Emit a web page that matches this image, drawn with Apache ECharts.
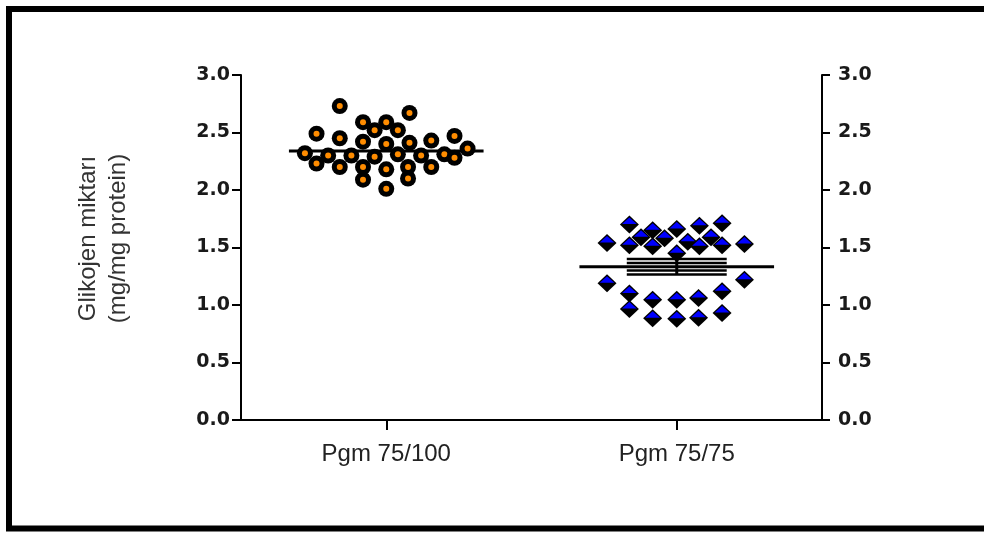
<!DOCTYPE html>
<html>
<head>
<meta charset="utf-8">
<script src="https://cdn.jsdelivr.net/npm/echarts@6/dist/echarts.min.js"></script>
<style>
  html, body { margin: 0; padding: 0; background: #fff; }
</style>
</head>
<body>
<div id="main" style="width: 984px; height: 534px"></div>
<script>
// categories (x positions 1 and 2)
var categories = ['Pgm 75/100', 'Pgm 75/75'];
var yTicks = [0, 0.5, 1.0, 1.5, 2.0, 2.5, 3.0];

// Pgm 75/100 points [x jitter, value]
var pgm100 = [
  [0.84, 2.73], [1.08, 2.67], [0.92, 2.59], [1.00, 2.59], [0.96, 2.52], [1.04, 2.52],
  [0.76, 2.49], [1.235, 2.47], [0.84, 2.45], [0.92, 2.42], [1.00, 2.40], [1.08, 2.41],
  [1.155, 2.43], [1.28, 2.36], [0.72, 2.32], [0.80, 2.30], [0.88, 2.30], [0.96, 2.29],
  [1.04, 2.31], [1.12, 2.30], [1.20, 2.31], [1.235, 2.28], [0.76, 2.23], [0.84, 2.20],
  [0.92, 2.20], [1.00, 2.18], [1.075, 2.20], [1.155, 2.20], [0.92, 2.09], [1.075, 2.10],
  [1.00, 2.01]
];

// Pgm 75/75 points [x jitter, value]
var pgm75 = [
  [1.837, 1.70], [1.917, 1.65], [2.00, 1.66], [2.078, 1.69], [2.156, 1.71],
  [1.877, 1.59], [1.958, 1.58], [2.038, 1.55], [2.118, 1.59],
  [1.76, 1.54], [1.837, 1.52], [1.917, 1.51], [2.078, 1.51], [2.156, 1.52], [2.233, 1.53],
  [2.00, 1.45],
  [1.76, 1.19], [2.233, 1.22],
  [1.837, 1.10], [1.917, 1.045], [2.00, 1.045], [2.075, 1.06], [2.156, 1.12],
  [1.837, 0.965], [1.917, 0.885], [2.00, 0.88], [2.075, 0.89], [2.156, 0.93]
];

// group means and SEM bar levels
var groupMeans = [2.34, 1.333];
var semLevels = [[], [1.40, 1.365, 1.30, 1.265]];

var meanHalf = 0.335, capHalf = 0.172;

function seg(x0, x1, y0, y1, w) {
  return {
    type: 'line', data: [[x0, y0], [x1, y1]], symbol: 'none', silent: true,
    lineStyle: { color: '#000', width: w }, z: 1, animation: false
  };
}

var lineSeries = [];
groupMeans.forEach(function (m, i) {
  var c = i + 1;
  lineSeries.push(seg(c - meanHalf, c + meanHalf, m, m, 3));
  var caps = semLevels[i];
  caps.forEach(function (v) {
    lineSeries.push(seg(c - capHalf, c + capHalf, v, v, 2.5));
  });
  if (caps.length) {
    lineSeries.push(seg(c, c, Math.min.apply(null, caps), Math.max.apply(null, caps), 3));
  }
});

function renderDot(params, api) {
  var p = api.coord([api.value(0), api.value(1)]);
  return {
    type: 'group',
    children: [
      { type: 'circle', shape: { cx: p[0], cy: p[1], r: 8 }, style: { fill: '#000' } },
      { type: 'circle', shape: { cx: p[0], cy: p[1], r: 3 }, style: { fill: '#ff8c00' } }
    ]
  };
}

function renderDiamond(params, api) {
  var p = api.coord([api.value(0), api.value(1)]);
  var x = p[0], y = p[1];
  return {
    type: 'group',
    children: [
      { type: 'polygon', shape: { points: [[x, y - 9], [x + 9.5, y], [x, y + 9], [x - 9.5, y]] }, style: { fill: '#000' } },
      { type: 'polygon', shape: { points: [[x, y - 7], [x + 7.3, y - 0.5], [x - 7.3, y - 0.5]] }, style: { fill: '#0000ff' } }
    ]
  };
}

var labelFont = { fontFamily: 'DejaVu Sans', fontSize: 19, fontWeight: 'bold', color: '#1a1a1a' };

var chart = echarts.init(document.getElementById('main'));
chart.setOption({
  animation: false,
  backgroundColor: '#fff',
  grid: { left: 241, right: 162, top: 75, bottom: 114 },
  graphic: [{
    type: 'rect', shape: { x: 9, y: 9, width: 1000, height: 519.5 },
    style: { fill: 'none', stroke: '#000', lineWidth: 6 }, silent: true
  }],
  xAxis: {
    type: 'value', min: 0.5, max: 2.5,
    axisLine: { show: true, lineStyle: { color: '#000', width: 2 } },
    axisTick: { show: true, customValues: [1, 2], length: 10, lineStyle: { color: '#000', width: 2 } },
    axisLabel: {
      customValues: [1, 2], margin: 22,
      formatter: function (v) { return categories[Math.round(v) - 1]; },
      fontFamily: 'Liberation Sans', fontSize: 24, color: '#222'
    },
    splitLine: { show: false }
  },
  yAxis: [{
    type: 'value', position: 'left', min: yTicks[0], max: yTicks[yTicks.length - 1], interval: 0.5,
    name: 'Glikojen miktarı\n(mg/mg protein)',
    nameLocation: 'middle', nameRotate: 90, nameGap: 108,
    nameTextStyle: { fontFamily: 'Liberation Sans', fontSize: 24, lineHeight: 30, color: '#333', padding: [0, 0, 0, 18] },
    axisLine: { show: true, lineStyle: { color: '#000', width: 2 } },
    axisTick: { show: true, length: 9, lineStyle: { color: '#000', width: 2 } },
    axisLabel: Object.assign({ margin: 11, formatter: function (v) { return v.toFixed(1); } }, labelFont),
    splitLine: { show: false }
  }, {
    type: 'value', position: 'right', min: yTicks[0], max: yTicks[yTicks.length - 1], interval: 0.5,
    axisLine: { show: true, lineStyle: { color: '#000', width: 2 } },
    axisTick: { show: true, length: 8, lineStyle: { color: '#000', width: 2 } },
    axisLabel: Object.assign({ margin: 16, formatter: function (v) { return v.toFixed(1); } }, labelFont),
    splitLine: { show: false }
  }],
  series: lineSeries.concat([
    { type: 'custom', name: categories[0], data: pgm100, renderItem: renderDot, z: 3 },
    { type: 'custom', name: categories[1], data: pgm75, renderItem: renderDiamond, z: 3 }
  ])
});
</script>
</body>
</html>
